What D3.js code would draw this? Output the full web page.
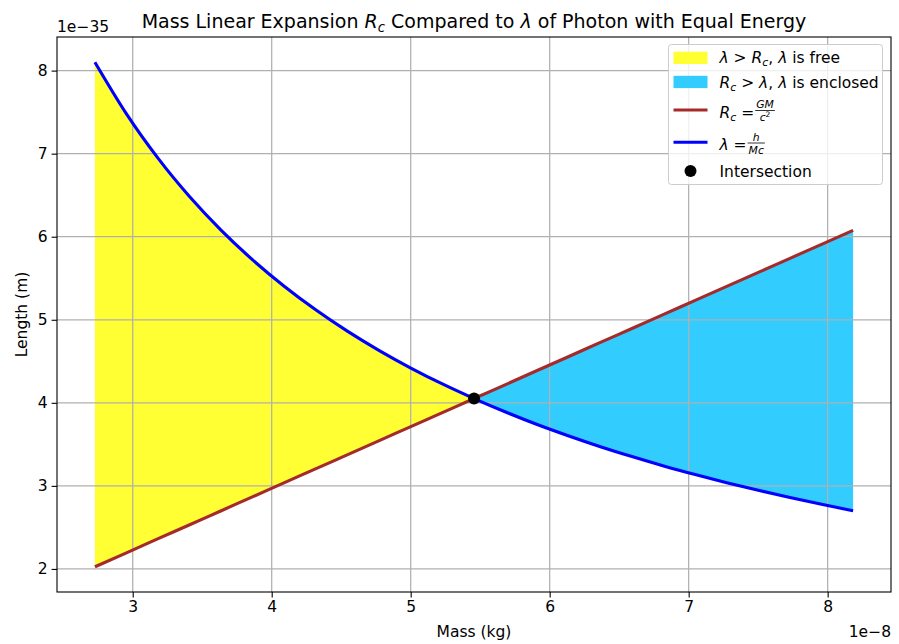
<!DOCTYPE html>
<html><head><meta charset="utf-8">
<script src="https://cdn.jsdelivr.net/npm/d3@7"></script>
<style>
body{margin:0;background:#fff}
text{font-family:"DejaVu Sans",sans-serif;fill:#000}
</style>
</head><body>
<svg id="c" width="899" height="644"></svg>
<script>
// Mass in units of 1e-8 kg
const mass = [2.728, 2.955, 3.183, 3.410, 3.637, 3.865, 4.092, 4.319, 4.547, 4.774, 5.001, 5.228, 5.456,
              5.683, 5.910, 6.138, 6.365, 6.592, 6.820, 7.047, 7.274, 7.501, 7.729, 7.956, 8.183];
// Photon wavelength lambda = h/(Mc), units of 1e-35 m
const lambdaVals = [8.101, 7.479, 6.943, 6.481, 6.076, 5.718, 5.401, 5.117, 4.860, 4.629, 4.419, 4.227, 4.051,
                    3.889, 3.739, 3.601, 3.472, 3.353, 3.240, 3.136, 3.038, 2.946, 2.859, 2.778, 2.701];
// Rc = GM/c^2, units of 1e-35 m
const rcVals = [2.026, 2.194, 2.364, 2.532, 2.701, 2.870, 3.039, 3.207, 3.377, 3.545, 3.714, 3.882, 4.052,
                4.220, 4.389, 4.558, 4.727, 4.895, 5.065, 5.233, 5.402, 5.570, 5.740, 5.908, 6.077];
const intersection = [5.456, 4.051];
const xTicks = [3, 4, 5, 6, 7, 8];
const yTicks = [2, 3, 4, 5, 6, 7, 8];

const svg = d3.select("#c");
const L = 57, R = 891, T = 37, B = 592;
const FS = 15.5;

const pts = mass.map((m, i) => ({m, lam: lambdaVals[i], rc: rcVals[i]}));
const xmin = d3.min(mass), xmax = d3.max(mass);
const ymin = d3.min(rcVals.concat(lambdaVals)), ymax = d3.max(rcVals.concat(lambdaVals));
const xp = (xmax - xmin) * 0.05, yp = (ymax - ymin) * 0.05;
const x = d3.scaleLinear().domain([xmin - xp, xmax + xp]).range([L, R]);
const y = d3.scaleLinear().domain([ymin - yp, ymax + yp]).range([B, T]);

// fills
const area = d3.area().curve(d3.curveMonotoneX).x(d => x(d.m)).y0(d => y(d.rc)).y1(d => y(d.lam));
const yellowPts = pts.filter(d => d.m <= intersection[0]);
const bluePts = pts.filter(d => d.m >= intersection[0]);
svg.append("path").datum(yellowPts).attr("d", area).attr("fill", "#ffff33");
svg.append("path").datum(bluePts).attr("d", area).attr("fill", "#33ccff");

// grid
const grid = svg.append("g");
xTicks.forEach(t => grid.append("line").attr("x1", x(t)).attr("x2", x(t)).attr("y1", T).attr("y2", B)
  .attr("stroke", "#b0b0b0").attr("stroke-width", 1.25));
yTicks.forEach(t => grid.append("line").attr("y1", y(t)).attr("y2", y(t)).attr("x1", L).attr("x2", R)
  .attr("stroke", "#b0b0b0").attr("stroke-width", 1.25));

// lines
const line = key => d3.line().curve(d3.curveMonotoneX).x(d => x(d.m)).y(d => y(d[key]));
svg.append("path").datum(pts).attr("d", line("rc")).attr("fill", "none").attr("stroke", "#a52a2a").attr("stroke-width", 3.1);
svg.append("path").datum(pts).attr("d", line("lam")).attr("fill", "none").attr("stroke", "#0000ff").attr("stroke-width", 3.1);
svg.append("circle").attr("cx", x(intersection[0])).attr("cy", y(intersection[1])).attr("r", 6).attr("fill", "#000");

// axes
const xAxis = d3.axisBottom(x).tickValues(xTicks).tickSize(5.4).tickPadding(4).tickFormat(d3.format("d"));
const yAxis = d3.axisLeft(y).tickValues(yTicks).tickSize(5.4).tickPadding(4).tickFormat(d3.format("d"));
const gx = svg.append("g").attr("transform", `translate(0,${B})`).call(xAxis);
const gy = svg.append("g").attr("transform", `translate(${L},0)`).call(yAxis);
[gx, gy].forEach(g => {
  g.select(".domain").remove();
  g.selectAll(".tick line").attr("stroke", "#000").attr("stroke-width", 1.1);
  g.selectAll(".tick text").attr("font-size", FS).attr("font-family", "DejaVu Sans").attr("fill", "#000");
});
svg.append("rect").attr("x", L).attr("y", T).attr("width", R - L).attr("height", B - T)
  .attr("fill", "none").attr("stroke", "#000").attr("stroke-width", 1.1);

// offset texts
svg.append("text").attr("x", L).attr("y", 31.5).attr("font-size", FS).text("1e\u221235");
svg.append("text").attr("x", R).attr("y", 636.5).attr("text-anchor", "end").attr("font-size", FS).text("1e\u22128");

// labels
svg.append("text").attr("x", (L + R) / 2).attr("y", 637).attr("text-anchor", "middle").attr("font-size", FS).text("Mass (kg)");
svg.append("text").attr("transform", `translate(26.5,${(T + B) / 2}) rotate(-90)`).attr("text-anchor", "middle")
  .attr("font-size", FS).text("Length (m)");

// title with math
function mathText(parent, xx, yy, parts, size, anchor) {
  const t = parent.append("text").attr("x", xx).attr("y", yy).attr("font-size", size);
  if (anchor) t.attr("text-anchor", anchor);
  parts.forEach(p => {
    const s = t.append("tspan").text(p.t);
    if (p.i) s.attr("font-style", "italic");
    if (p.sub) s.attr("font-size", size * 0.7).attr("dy", size * 0.2);
    if (p.back) s.attr("dy", -size * 0.2);
  });
  return t;
}
mathText(svg, (L + R) / 2, 28.3, [
  {t: "Mass Linear Expansion "}, {t: "R", i: 1}, {t: "c", i: 1, sub: 1},
  {t: " Compared to ", back: 1}, {t: "λ", i: 1}, {t: " of Photon with Equal Energy"}
], 19.0, "middle");

// legend
const lg = svg.append("g");
lg.append("rect").attr("x", 668.5).attr("y", 44.5).attr("width", 214).attr("height", 140).attr("rx", 3)
  .attr("fill", "#fff").attr("fill-opacity", 0.8).attr("stroke", "#cccccc").attr("stroke-width", 1);
const px = 673.5, pw = 34, tx = 719.5;
lg.append("rect").attr("x", px).attr("y", 51.7).attr("width", pw).attr("height", 12.3).attr("fill", "#ffff33");
lg.append("rect").attr("x", px).attr("y", 75.8).attr("width", pw).attr("height", 12.3).attr("fill", "#33ccff");
lg.append("line").attr("x1", px).attr("x2", px + pw).attr("y1", 110).attr("y2", 110).attr("stroke", "#a52a2a").attr("stroke-width", 3.1);
lg.append("line").attr("x1", px).attr("x2", px + pw).attr("y1", 142.3).attr("y2", 142.3).attr("stroke", "#0000ff").attr("stroke-width", 3.1);
lg.append("circle").attr("cx", px + pw / 2).attr("cy", 171).attr("r", 6).attr("fill", "#000");

mathText(lg, tx, 63, [
  {t: "λ", i: 1}, {t: " > "}, {t: "R", i: 1}, {t: "c", i: 1, sub: 1}, {t: ", ", back: 1}, {t: "λ", i: 1}, {t: " is free"}
], FS);
mathText(lg, tx, 88, [
  {t: "R", i: 1}, {t: "c", i: 1, sub: 1}, {t: " > ", back: 1}, {t: "λ", i: 1}, {t: ", "}, {t: "λ", i: 1}, {t: " is enclosed"}
], FS);

function fraction(parent, cx0, axisY, num, den, size) {
  const g = parent.append("g");
  const n = mathText(g, 0, axisY - 3, num, size, "middle");
  const d = mathText(g, 0, axisY + size * 0.95, den, size, "middle");
  const w = Math.max(n.node().getComputedTextLength(), d.node().getComputedTextLength()) + 2;
  n.attr("x", cx0 + w / 2); d.attr("x", cx0 + w / 2);
  g.append("line").attr("x1", cx0).attr("x2", cx0 + w).attr("y1", axisY - 0.5).attr("y2", axisY - 0.5)
    .attr("stroke", "#000").attr("stroke-width", 0.8);
  return g;
}
const t3 = mathText(lg, tx, 118, [{t: "R", i: 1}, {t: "c", i: 1, sub: 1}, {t: " = ", back: 1}], FS);
fraction(lg, tx + t3.node().getComputedTextLength() + 1, 111, [{t: "GM", i: 1}],
  [{t: "c", i: 1}, {t: "2", sub: 1}], 10.8);
lg.selectAll("text").filter(function(){ return this.textContent === "c2"; })
  .selectAll("tspan").filter((_, i) => i === 1).attr("dy", -10.8 * 0.35);

const t4 = mathText(lg, tx, 150, [{t: "λ", i: 1}, {t: " = "}], FS);
fraction(lg, tx + t4.node().getComputedTextLength() + 1, 143.5, [{t: "h", i: 1}], [{t: "Mc", i: 1}], 10.8);

lg.append("text").attr("x", tx).attr("y", 176.7).attr("font-size", FS).text("Intersection");
</script>
</body></html>
